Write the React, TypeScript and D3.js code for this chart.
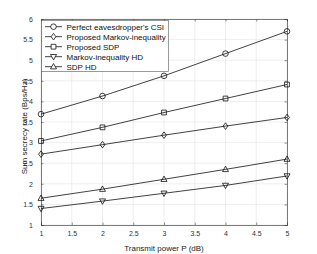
import React, { useEffect, useRef } from 'react';
import * as d3 from 'd3';

// Transmit power (dB)
const powers = [1, 2, 3, 4, 5];

// Sum secrecy rate for each scheme
const perfectCSI = [3.69, 4.13, 4.62, 5.16, 5.70];
const proposedMarkov = [2.72, 2.95, 3.18, 3.40, 3.61];
const proposedSDP = [3.04, 3.37, 3.73, 4.07, 4.41];
const markovHD = [1.40, 1.58, 1.77, 1.96, 2.19];
const sdpHD = [1.65, 1.87, 2.11, 2.35, 2.60];

const seriesNames = [
  "Perfect eavesdropper's CSI",
  'Proposed Markov-inequality',
  'Proposed SDP',
  'Markov-inequality HD',
  'SDP HD',
];
const seriesMarkers = ['circle', 'diamond', 'square', 'triDown', 'triUp'];
const seriesValues = [perfectCSI, proposedMarkov, proposedSDP, markovHD, sdpHD];

const xTicks = [1, 1.5, 2, 2.5, 3, 3.5, 4, 4.5, 5];
const yTicks = [1, 1.5, 2, 2.5, 3, 3.5, 4, 4.5, 5, 5.5, 6];

const markerPath = (type: string, cx: number, cy: number) => {
  const p = d3.path();
  if (type === 'circle') {
    p.arc(cx, cy, 2.8, 0, Math.PI * 2);
  } else if (type === 'square') {
    p.rect(cx - 2.4, cy - 2.4, 4.8, 4.8);
  } else if (type === 'diamond') {
    p.moveTo(cx, cy - 3.3);
    p.lineTo(cx + 2.4, cy);
    p.lineTo(cx, cy + 3.3);
    p.lineTo(cx - 2.4, cy);
    p.closePath();
  } else if (type === 'triUp') {
    p.moveTo(cx, cy - 3.2);
    p.lineTo(cx + 3, cy + 2.2);
    p.lineTo(cx - 3, cy + 2.2);
    p.closePath();
  } else {
    p.moveTo(cx, cy + 3.2);
    p.lineTo(cx + 3, cy - 2.2);
    p.lineTo(cx - 3, cy - 2.2);
    p.closePath();
  }
  return p.toString();
};

const Chart = () => {
  const ref = useRef<SVGSVGElement>(null);

  useEffect(() => {
    const svg = d3.select(ref.current);
    svg.selectAll('*').remove();

    const left = 41, right = 287, top = 19, bottom = 225;
    const font = 'Liberation Sans, Arial, sans-serif';

    const x = d3.scaleLinear().domain([1, 5]).range([left, right]);
    const y = d3.scaleLinear().domain([1, 6]).range([bottom, top]);

    svg.append('rect')
      .attr('x', left).attr('y', top)
      .attr('width', right - left).attr('height', bottom - top)
      .attr('fill', '#fff');

    // grid
    const grid = svg.append('g').attr('stroke', '#e3e3e3').attr('stroke-width', 0.6);
    xTicks.forEach(t => {
      grid.append('line').attr('x1', x(t)).attr('x2', x(t)).attr('y1', top).attr('y2', bottom);
    });
    yTicks.forEach(t => {
      grid.append('line').attr('x1', left).attr('x2', right).attr('y1', y(t)).attr('y2', y(t));
    });

    // axes (ticks inside, MATLAB style)
    const axColor = '#444';
    svg.append('g')
      .attr('transform', `translate(0,${bottom})`)
      .call(d3.axisBottom(x).tickValues(xTicks).tickSize(-2.5).tickPadding(6).tickFormat(d3.format('')));
    svg.append('g')
      .attr('transform', `translate(${left},0)`)
      .call(d3.axisLeft(y).tickValues(yTicks).tickSize(-2.5).tickPadding(8).tickFormat(d3.format('')));
    svg.append('g')
      .attr('transform', `translate(0,${top})`)
      .call(d3.axisTop(x).tickValues(xTicks).tickSize(-2.5).tickFormat(() => ''));
    svg.append('g')
      .attr('transform', `translate(${right},0)`)
      .call(d3.axisRight(y).tickValues(yTicks).tickSize(-2.5).tickFormat(() => ''));

    svg.selectAll('.domain').attr('stroke', axColor).attr('stroke-width', 0.7);
    svg.selectAll('.tick line').attr('stroke', axColor).attr('stroke-width', 0.6);
    svg.selectAll('.tick text')
      .attr('fill', '#333')
      .style('font-family', font)
      .style('font-size', '7px');

    // lines and markers
    const line = d3.line<number>()
      .x((_, i) => x(powers[i]))
      .y(d => y(d));

    seriesValues.forEach((vals, si) => {
      svg.append('path')
        .attr('d', line(vals) as string)
        .attr('fill', 'none')
        .attr('stroke', '#111')
        .attr('stroke-width', 0.8);
      vals.forEach((v, i) => {
        svg.append('path')
          .attr('d', markerPath(seriesMarkers[si], x(powers[i]), y(v)))
          .attr('fill', 'none')
          .attr('stroke', '#111')
          .attr('stroke-width', 0.8);
      });
    });

    // legend
    const lg = svg.append('g');
    lg.append('rect')
      .attr('x', 41.5).attr('y', 20.5)
      .attr('width', 127).attr('height', 51)
      .attr('fill', '#fff')
      .attr('stroke', '#555')
      .attr('stroke-width', 0.6);
    seriesNames.forEach((name, i) => {
      const ly = 26.7 + i * 10;
      lg.append('line')
        .attr('x1', 45).attr('x2', 62).attr('y1', ly).attr('y2', ly)
        .attr('stroke', '#111').attr('stroke-width', 0.8);
      lg.append('path')
        .attr('d', markerPath(seriesMarkers[i], 53.5, ly))
        .attr('fill', '#fff')
        .attr('stroke', '#111')
        .attr('stroke-width', 0.8);
      lg.append('text')
        .attr('x', 66.5).attr('y', ly + 2.9)
        .text(name)
        .attr('fill', '#111')
        .style('font-family', font)
        .style('font-size', '8px');
    });

    // axis labels
    svg.append('text')
      .attr('x', 164)
      .attr('y', 250.5)
      .attr('text-anchor', 'middle')
      .text('Transmit power P (dB)')
      .attr('fill', '#222')
      .style('font-family', font)
      .style('font-size', '8px');

    svg.append('text')
      .attr('transform', `translate(26.5,126.5) rotate(-90)`)
      .attr('text-anchor', 'middle')
      .text('Sum secrecy rate (Bps/Hz)')
      .attr('fill', '#222')
      .style('font-family', font)
      .style('font-size', '8px');
  }, []);

  return (
    <svg
      ref={ref}
      width={317}
      height={254}
      style={{ position: 'absolute', left: 0, top: 0, background: '#fff' }}
    />
  );
};

export default function App() {
  return <Chart />;
}
